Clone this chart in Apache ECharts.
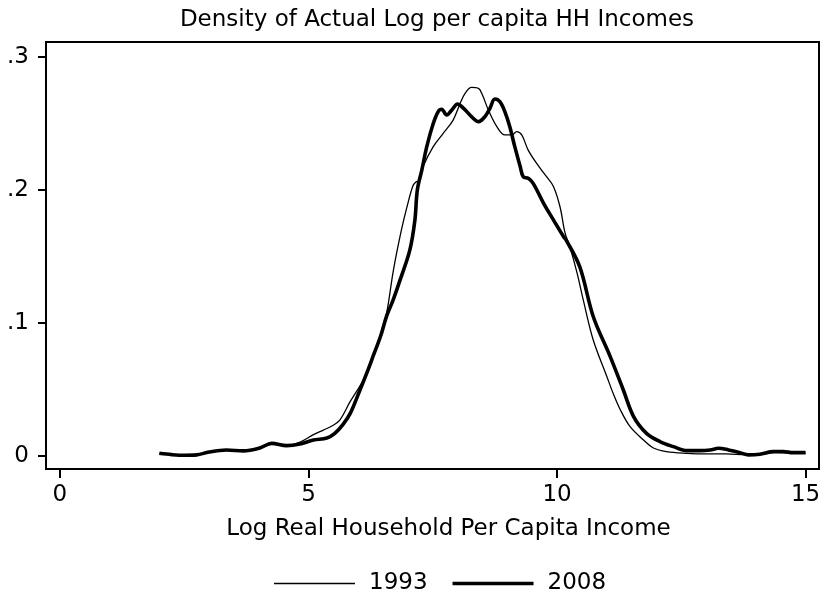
<!DOCTYPE html>
<html>
<head>
<meta charset="utf-8">
<script src="https://cdn.jsdelivr.net/npm/echarts@6/dist/echarts.min.js"></script>
<style>
html,body{margin:0;padding:0;background:#fff;}
#c{width:826px;height:597px;}
</style>
</head>
<body>
<div id="c"></div>
<script>
const titleText = 'Density of Actual Log per capita HH Incomes';
const xAxisName = 'Log Real Household Per Capita Income';
const seriesNames = ['1993', '2008'];
const xTicks = [0, 5, 10, 15];
const yTicks = [0, 0.1, 0.2, 0.3];

const x1993 = [2.0, 2.25, 2.5, 2.75, 3.0, 3.35, 3.69, 4.02, 4.26, 4.56, 4.83, 5.1, 5.3, 5.47, 5.63, 5.84, 6.1, 6.3, 6.45, 6.57, 6.71, 6.87, 7.0, 7.1, 7.16, 7.22, 7.31, 7.51, 7.71, 7.91, 8.05, 8.15, 8.28, 8.42, 8.5, 8.62, 8.79, 8.95, 9.09, 9.19, 9.29, 9.42, 9.59, 9.79, 9.93, 10.06, 10.16, 10.26, 10.4, 10.53, 10.73, 11.0, 11.13, 11.27, 11.47, 11.74, 11.94, 12.2, 12.6, 13.0, 13.4, 13.8, 14.1, 14.4, 14.7, 15.0];
const y1993 = [0.0015, 0.0008, 0.0004, 0.001, 0.003, 0.0042, 0.004, 0.0058, 0.009, 0.008, 0.0105, 0.016, 0.0195, 0.0225, 0.027, 0.041, 0.057, 0.075, 0.091, 0.107, 0.14, 0.17, 0.19, 0.203, 0.206, 0.207, 0.218, 0.2326, 0.2426, 0.2526, 0.265, 0.2727, 0.2772, 0.2764, 0.2714, 0.26, 0.2476, 0.2414, 0.2414, 0.2439, 0.2414, 0.23, 0.22, 0.21, 0.2025, 0.1874, 0.168, 0.157, 0.138, 0.117, 0.087, 0.06, 0.047, 0.035, 0.022, 0.012, 0.006, 0.0033, 0.002, 0.0015, 0.0015, 0.001, 0.0012, 0.0028, 0.0025, 0.002];

const x2008 = [2.0, 2.25, 2.5, 2.75, 3.0, 3.35, 3.69, 4.02, 4.26, 4.56, 4.83, 5.1, 5.37, 5.53, 5.7, 5.84, 6.04, 6.2, 6.3, 6.45, 6.57, 6.7, 6.84, 7.04, 7.14, 7.19, 7.28, 7.38, 7.51, 7.61, 7.68, 7.78, 7.88, 8.0, 8.12, 8.28, 8.42, 8.55, 8.65, 8.75, 8.85, 8.95, 9.05, 9.15, 9.26, 9.32, 9.42, 9.52, 9.73, 9.93, 10.13, 10.19, 10.46, 10.73, 11.07, 11.33, 11.54, 11.8, 12.07, 12.34, 12.61, 12.88, 13.08, 13.25, 13.45, 13.68, 13.85, 14.08, 14.35, 14.55, 14.75, 15.0];
const y2008 = [0.002, 0.001, 0.0005, 0.0008, 0.003, 0.0045, 0.0038, 0.006, 0.0095, 0.0078, 0.009, 0.012, 0.0135, 0.017, 0.024, 0.032, 0.05, 0.065, 0.075, 0.09, 0.105, 0.117, 0.132, 0.155, 0.177, 0.2, 0.215, 0.2326, 0.25, 0.259, 0.2607, 0.2564, 0.26, 0.2647, 0.2614, 0.2552, 0.2514, 0.2552, 0.2614, 0.2684, 0.2664, 0.259, 0.2476, 0.2326, 0.2175, 0.21, 0.2088, 0.205, 0.19, 0.1774, 0.165, 0.162, 0.142, 0.1047, 0.0747, 0.05, 0.0296, 0.017, 0.0108, 0.007, 0.004, 0.004, 0.0045, 0.0058, 0.0045, 0.0025, 0.0008, 0.0013, 0.0033, 0.0033, 0.0025, 0.0025];

const pair = (xs, ys) => xs.map((x, i) => [x, ys[i]]);
const FONT = 'DejaVu Sans';
const FS = 23;
// legend icons: horizontal bands of different thickness inside an 81x14 box
const iconThin = 'path://M0,0L81,0L81,0Z M0,6.35H81V7.65H0Z M0,14L81,14L81,14Z';
const iconThick = 'path://M0,0L81,0L81,0Z M0,5.2H81V8.8H0Z M0,14L81,14L81,14Z';

const chart = echarts.init(document.getElementById('c'), null, {renderer: 'canvas'});
chart.setOption({
  animation: false,
  backgroundColor: '#ffffff',
  title: {
    text: titleText,
    left: 432, top: 4, textAlign: 'center',
    textStyle: {fontFamily: FONT, fontSize: FS, fontWeight: 'normal', color: '#000'}
  },
  legend: {
    left: 269, top: 567,
    itemWidth: 81, itemHeight: 14, itemGap: 25,
    symbolKeepAspect: false,
    itemStyle: {borderWidth: 0, color: '#000'},
    textStyle: {fontFamily: FONT, fontSize: FS, color: '#000', padding: [0, 0, 0, 9]},
    data: [{name: seriesNames[0], icon: iconThin}, {name: seriesNames[1], icon: iconThick}]
  },
  grid: {
    left: 46, right: 7, top: 42, bottom: 128,
    show: true, borderColor: '#000', borderWidth: 2, backgroundColor: '#fff'
  },
  xAxis: {
    type: 'value', min: -0.28, max: 15.27,
    name: xAxisName, nameLocation: 'middle', nameGap: 49,
    nameTextStyle: {fontFamily: FONT, fontSize: FS, color: '#000', padding: [0, 0, 0, 32]},
    axisLine: {show: true, onZero: false, lineStyle: {color: '#000', width: 2}},
    axisTick: {show: true, length: 9, lineStyle: {color: '#000', width: 2}, customValues: xTicks},
    axisLabel: {fontFamily: FONT, fontSize: FS, color: '#000', margin: 15, customValues: xTicks},
    splitLine: {show: false}
  },
  yAxis: {
    type: 'value', min: -0.0098, max: 0.3113,
    axisLine: {show: true, onZero: false, lineStyle: {color: '#000', width: 2}},
    axisTick: {show: true, length: 8, lineStyle: {color: '#000', width: 2}, customValues: yTicks},
    axisLabel: {fontFamily: FONT, fontSize: FS, color: '#000', margin: 17, customValues: yTicks,
      formatter: v => (Math.abs(v) < 1e-9 ? '0' : String(+v.toFixed(2)).replace(/^0\./, '.'))},
    splitLine: {show: false}
  },
  series: [
    {name: seriesNames[0], type: 'line', data: pair(x1993, y1993), symbol: 'none', smooth: 0.35,
     lineStyle: {color: '#000', width: 1.3}, itemStyle: {color: '#000'}, z: 3},
    {name: seriesNames[1], type: 'line', data: pair(x2008, y2008), symbol: 'none', smooth: 0.35,
     lineStyle: {color: '#000', width: 3.6}, itemStyle: {color: '#000'}, z: 2}
  ]
});
</script>
</body>
</html>
